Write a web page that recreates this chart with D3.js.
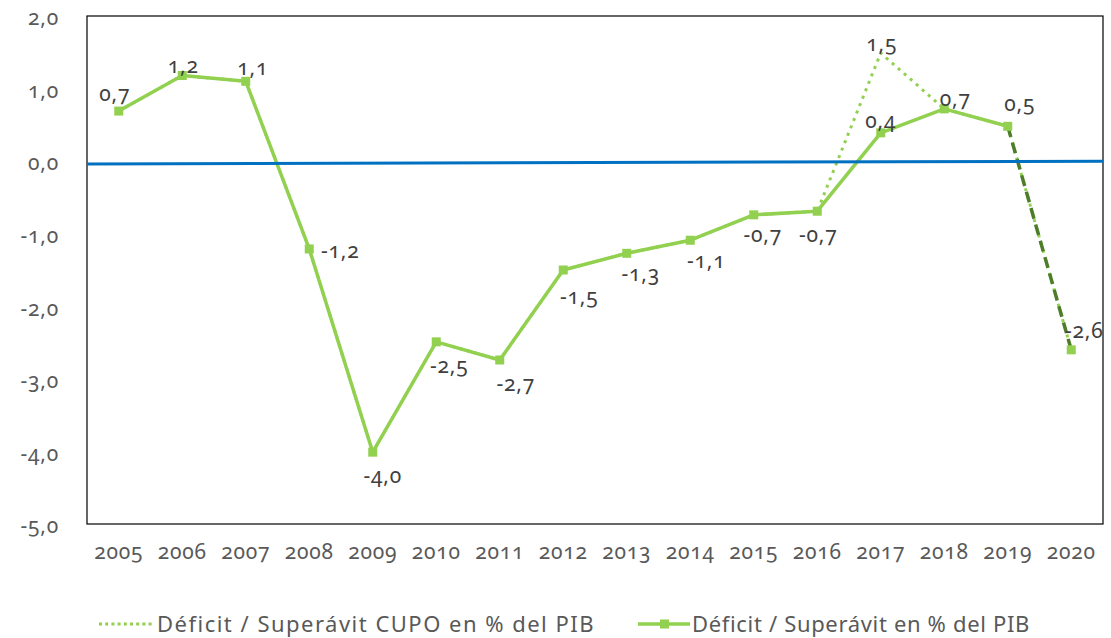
<!DOCTYPE html>
<html>
<head>
<meta charset="utf-8">
<script src="https://cdn.jsdelivr.net/npm/d3@7"></script>
<style>
  body { margin: 0; background: #fff; }
  svg { display: block; }
  text { font-family: "Noto Sans", Lato, sans-serif; font-feature-settings: "onum" 1; font-variant-numeric: oldstyle-nums; }
</style>
</head>
<body>
<svg id="chart" width="1111" height="638"></svg>
<script>
const years = ["2005","2006","2007","2008","2009","2010","2011","2012","2013","2014","2015","2016","2017","2018","2019","2020"];
const deficit = [0.69, 1.18, 1.10, -1.21, -4.01, -2.49, -2.74, -1.50, -1.27, -1.09, -0.74, -0.69, 0.39, 0.72, 0.48, -2.60];
const deficitCupo = [0.69, 1.18, 1.10, -1.21, -4.01, -2.49, -2.74, -1.50, -1.27, -1.09, -0.74, -0.69, 1.49, 0.72, 0.48, -2.60];
const yTicks = [2, 1, 0, -1, -2, -3, -4, -5];
const zeroLine = [-0.04, 0.0];
const seriesNames = ["Déficit / Superávit CUPO en % del PIB", "Déficit / Superávit en % del PIB"];

// label placement (layout only): [dx, dy] relative to point
const labelOffsets = [
  [-4,-10],[1,-3],[7,-6],[31,9],[10,31],[13,31],[16,31],[16,34],
  [14,28],[16,28],[9,27],[1,31],[0,-5],[11,-3],[12,-15],[13,-12]
];
const cupoLabelIdx = 12;

const fmt = v => d3.format(".1f")(v).replace(".", ",").replace("−", "-");

const svg = d3.select("#chart");
const pLeft = 87, pRight = 1103, pTop = 16, pBottom = 524;

const x = d3.scaleBand().domain(years).range([pLeft, pRight]);
const y = d3.scaleLinear().domain([-5, 2]).range([pBottom, pTop]);
const cx = d => x(d) + x.bandwidth() / 2;

const textColor = "#595959";
const labelColor = "#404040";
const green = "#92d050";
const darkGreen = "#4e7d2a";
const blue = "#0070c0";
const numFont = 21;
const numSpacing = 0.8;

// plot border
svg.append("rect")
  .attr("x", pLeft).attr("y", pTop)
  .attr("width", pRight - pLeft).attr("height", pBottom - pTop)
  .attr("fill", "none").attr("stroke", "#000").attr("stroke-width", 1.2);

// y axis labels
const yAxis = d3.axisLeft(y).tickValues(yTicks).tickFormat(fmt).tickSize(0).tickPadding(28);
const gy = svg.append("g").attr("transform", `translate(${pLeft},0)`).call(yAxis);
gy.select(".domain").remove();
gy.selectAll("text").attr("fill", textColor).attr("font-size", numFont)
  .attr("letter-spacing", numSpacing).attr("dy", "0.42em");

// x axis labels
const xAxis = d3.axisBottom(x).tickSize(0).tickPadding(20);
const gx = svg.append("g").attr("transform", `translate(0,${pBottom})`).call(xAxis);
gx.select(".domain").remove();
gx.selectAll("text").attr("fill", textColor).attr("font-size", numFont)
  .attr("letter-spacing", numSpacing);

const line = d3.line().x((d, i) => cx(years[i])).y(d => y(d));

// CUPO dotted series
svg.append("path")
  .datum(deficitCupo)
  .attr("d", line)
  .attr("fill", "none")
  .attr("stroke", green)
  .attr("stroke-width", 3)
  .attr("stroke-dasharray", "3,5");

// main series (solid up to 2019)
const n = years.length;
svg.append("path")
  .datum(deficit.slice(0, n - 1))
  .attr("d", line)
  .attr("fill", "none")
  .attr("stroke", green)
  .attr("stroke-width", 3.5)
  .attr("stroke-linejoin", "round");

// 2019-2020 dashed segment
svg.append("path")
  .datum(deficit.slice(n - 2))
  .attr("d", d3.line().x((d, i) => cx(years[n - 2 + i])).y(d => y(d)))
  .attr("fill", "none")
  .attr("stroke", darkGreen)
  .attr("stroke-width", 3.5)
  .attr("stroke-dasharray", "11,6");

// zero line
svg.append("line")
  .attr("x1", pLeft).attr("x2", pRight)
  .attr("y1", y(zeroLine[0])).attr("y2", y(zeroLine[1]))
  .attr("stroke", blue).attr("stroke-width", 3);

// markers
svg.selectAll("rect.mk")
  .data(deficit)
  .join("rect")
  .attr("class", "mk")
  .attr("x", (d, i) => cx(years[i]) - 4.5)
  .attr("y", d => y(d) - 4.5)
  .attr("width", 9).attr("height", 9)
  .attr("fill", green);

// data labels
svg.selectAll("text.lbl")
  .data(deficit)
  .join("text")
  .attr("class", "lbl")
  .attr("x", (d, i) => cx(years[i]) + labelOffsets[i][0])
  .attr("y", (d, i) => y(d) + labelOffsets[i][1])
  .attr("text-anchor", "middle")
  .attr("font-size", numFont)
  .attr("letter-spacing", numSpacing)
  .attr("fill", labelColor)
  .text(d => fmt(d));

svg.append("text")
  .attr("x", cx(years[cupoLabelIdx]) + 1)
  .attr("y", y(deficitCupo[cupoLabelIdx]) - 2)
  .attr("text-anchor", "middle")
  .attr("font-size", numFont)
  .attr("letter-spacing", numSpacing)
  .attr("fill", labelColor)
  .text(fmt(deficitCupo[cupoLabelIdx]));

// legend
const ly = 624;
const lg = svg.append("g");
function fitText(sel, target) {
  const t = sel.node();
  const w = t.getComputedTextLength();
  const nChars = t.textContent.length;
  sel.attr("letter-spacing", Math.max(0, (target - w) / nChars));
}
lg.append("line")
  .attr("x1", 99).attr("x2", 153).attr("y1", ly).attr("y2", ly)
  .attr("stroke", green).attr("stroke-width", 3).attr("stroke-dasharray", "3,3.2");
const t1 = lg.append("text")
  .attr("x", 157).attr("y", ly).attr("dy", "0.35em")
  .attr("font-size", 22).attr("fill", textColor)
  .text(seriesNames[0]);
fitText(t1, 438);
lg.append("line")
  .attr("x1", 638).attr("x2", 690).attr("y1", ly).attr("y2", ly)
  .attr("stroke", green).attr("stroke-width", 3.5);
lg.append("rect")
  .attr("x", 660).attr("y", ly - 4.5).attr("width", 9).attr("height", 9)
  .attr("fill", green);
const t2 = lg.append("text")
  .attr("x", 692).attr("y", ly).attr("dy", "0.35em")
  .attr("font-size", 22).attr("fill", textColor)
  .text(seriesNames[1]);
fitText(t2, 338);
</script>
</body>
</html>
